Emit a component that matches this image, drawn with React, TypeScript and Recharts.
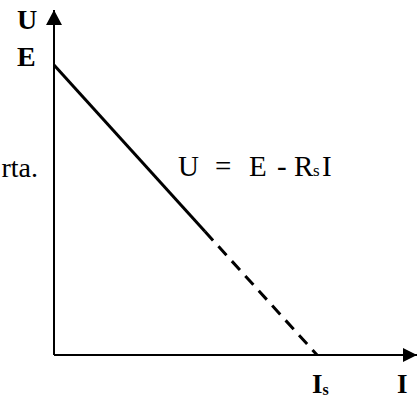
import React from 'react';
import { LineChart, Line, XAxis, YAxis, ReferenceDot } from 'recharts';

// Data (normalised units: E = 1, Is = 1)
const E = 1;
const Is = 1;
const currents = [0, 0.574, 1];
const solidU = [1, 0.426, null];
const dashedU = [null, 0.426, 0];
const xTicks = [Is];
const yTicks = [E];
const xMax = 1.38;
const yMax = 1.19;

const data = currents.map((i, k) => ({ i, solid: solidU[k], dashed: dashedU[k] }));

const FONT = '"Liberation Serif", "Times New Roman", serif';

const YTick = (props: any) => {
  const { y } = props;
  return (
    <text x={17} y={y + 1} fontFamily={FONT} fontWeight="bold" fontSize={28} fill="#000">
      E
    </text>
  );
};

const XTick = (props: any) => {
  const { x } = props;
  return (
    <text x={x - 5} y={393} fontFamily={FONT} fontWeight="bold" fontSize={27} fill="#000">
      I
      <tspan fontSize={16} dy={2}>s</tspan>
    </text>
  );
};

const YArrow = (props: any) => {
  const { cx, cy } = props;
  return (
    <g>
      <polygon points={`${cx},${cy} ${cx - 8},${cy + 15} ${cx + 8},${cy + 15}`} fill="#000" />
      <text x={cx - 37} y={cy + 19} fontFamily={FONT} fontWeight="bold" fontSize={28} fill="#000">
        U
      </text>
    </g>
  );
};

const XArrow = (props: any) => {
  const { cx, cy } = props;
  return (
    <g>
      <polygon points={`${cx},${cy} ${cx - 14},${cy - 7} ${cx - 14},${cy + 7}`} fill="#000" />
      <text x={cx - 20} y={cy + 38} fontFamily={FONT} fontWeight="bold" fontSize={27} fill="#000">
        I
      </text>
    </g>
  );
};

export default function App() {
  return (
    <div style={{ position: 'absolute', left: 0, top: 0, width: 417, height: 401, background: '#fff' }}>
      <LineChart width={417} height={401} data={data} margin={{ top: 10, right: 0, bottom: 0, left: 0 }}>
        <XAxis
          type="number"
          dataKey="i"
          domain={[0, xMax]}
          ticks={xTicks}
          tick={<XTick />}
          tickLine={false}
          axisLine={{ stroke: '#000', strokeWidth: 2 }}
          height={46}
        />
        <YAxis
          type="number"
          domain={[0, yMax]}
          ticks={yTicks}
          tick={<YTick />}
          tickLine={false}
          axisLine={{ stroke: '#000', strokeWidth: 2 }}
          width={54}
        />
        <Line
          type="linear"
          dataKey="solid"
          stroke="#000"
          strokeWidth={3}
          dot={false}
          isAnimationActive={false}
        />
        <Line
          type="linear"
          dataKey="dashed"
          stroke="#000"
          strokeWidth={3}
          strokeDasharray="12 8"
          dot={false}
          isAnimationActive={false}
        />
        <ReferenceDot x={0} y={yMax} r={0} ifOverflow="visible" shape={<YArrow />} />
        <ReferenceDot x={xMax} y={0} r={0} ifOverflow="visible" shape={<XArrow />} />
      </LineChart>
      <svg width={417} height={401} style={{ position: 'absolute', left: 0, top: 0, pointerEvents: 'none' }}>
        <text y={176} fontFamily={FONT} fontSize={29} fill="#000">
          <tspan x={178}>U</tspan>
          <tspan x={215}>=</tspan>
          <tspan x={249}>E</tspan>
          <tspan x={277}>-</tspan>
          <tspan x={294}>R</tspan>
          <tspan x={313} fontSize={17}>s</tspan>
          <tspan x={322} fontSize={29}>I</tspan>
        </text>
        <text x={38} y={177} textAnchor="end" fontFamily={FONT} fontSize={28} fill="#000">
          rta.
        </text>
      </svg>
    </div>
  );
}
